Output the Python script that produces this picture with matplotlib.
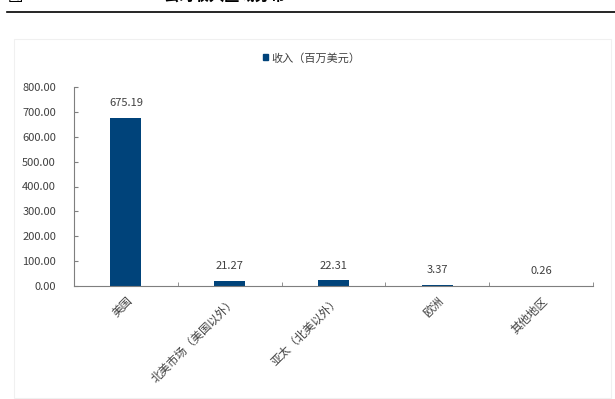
import matplotlib
matplotlib.use("Agg")
import matplotlib.pyplot as plt
from matplotlib.patches import Rectangle
from matplotlib.lines import Line2D

plt.rcParams['font.family'] = ['Noto Sans CJK SC', 'DejaVu Sans']

categories = ["美国", "北美市场（美国以外）", "亚太（北美以外）", "欧洲", "其他地区"]
revenue = [675.19, 21.27, 22.31, 3.37, 0.26]
series_name = "收入（百万美元）"
yticks = [0, 100, 200, 300, 400, 500, 600, 700, 800]

bar_color = "#00437A"
text_color = "#404040"
axis_color = "#7F7F7F"

fig = plt.figure(figsize=(6.15, 3.99), dpi=100)
W, H = 615, 399

# header rule and caption running off the top edge
fig.add_artist(Line2D([7 / W, 1], [1 - 12 / H, 1 - 12 / H], color="black", lw=1.2))
fig.text(8 / W, 1 + 4 / H, "图", fontsize=11, color="black", va="center", ha="left")
fig.text(163 / W, 1 + 4 / H, "公司收入区域分布", fontsize=11, fontweight="bold",
         color="black", va="center", ha="left")

# chart frame
fig.add_artist(Rectangle((14 / W, 1 / H), (611 - 14) / W, (398 - 39) / H,
                         transform=fig.transFigure, fill=False,
                         edgecolor="#F0F0F0", lw=0.8))

ax = fig.add_axes([74 / W, 1 - 286 / H, (593 - 74) / W, (286 - 87) / H])
x = list(range(len(categories)))
ax.bar(x, revenue, width=0.3, color=bar_color, label=series_name)

for xi, v in zip(x, revenue):
    ax.annotate(f"{v:.2f}", (xi, v), xytext=(0, 7), textcoords="offset points",
                ha="center", va="bottom", fontsize=8, color=text_color)

ax.set_xlim(-0.5, len(categories) - 0.5)
ax.set_ylim(0, 800)
ax.set_yticks(yticks)
ax.set_yticklabels([f"{t:.2f}" for t in yticks], fontsize=8, color=text_color)
ax.tick_params(axis="y", direction="in", length=3, color=axis_color, pad=13)

ax.set_xticks(x)
ax.set_xticklabels(categories, rotation=45, ha="right", rotation_mode="anchor",
                   fontsize=8.3, color=text_color)
ax.tick_params(axis="x", length=0, pad=6)
# category boundary ticks
ax.set_xticks([i + 0.5 for i in range(len(categories))], minor=True)
ax.tick_params(axis="x", which="minor", direction="in", length=3, color=axis_color)

for s in ["top", "right"]:
    ax.spines[s].set_visible(False)
for s in ["left", "bottom"]:
    ax.spines[s].set_color(axis_color)
    ax.spines[s].set_linewidth(0.8)

handles = [Rectangle((0, 0), 1, 1, color=bar_color)]
fig.legend(handles, [series_name], loc="center", bbox_to_anchor=(312 / W, 1 - 58 / H),
           frameon=False, fontsize=8, handlelength=0.45, handleheight=0.45,
           handletextpad=0.3, labelcolor=text_color)

fig.savefig("out.png", dpi=100, facecolor="white")
